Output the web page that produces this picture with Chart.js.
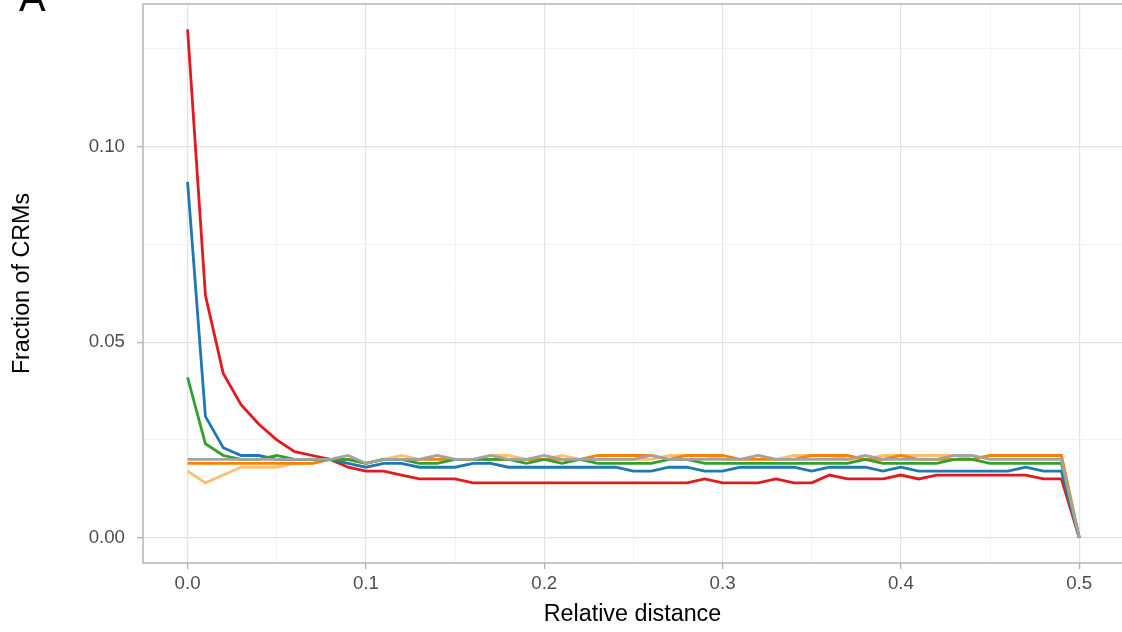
<!DOCTYPE html>
<html>
<head>
<meta charset="utf-8">
<script src="https://cdn.jsdelivr.net/npm/chart.js@4/dist/chart.umd.min.js"></script>
<style>
  body { margin: 0; background: #fff; }
  .chart-box { width: 1122px; height: 632px; }
</style>
</head>
<body>
<div class="chart-box">
  <canvas id="distChart" width="1122" height="632"></canvas>
</div>
<script>
  // relative distance of each bin
  const distances = [
    0.00, 0.01, 0.02, 0.03, 0.04, 0.05, 0.06, 0.07, 0.08, 0.09,
    0.10, 0.11, 0.12, 0.13, 0.14, 0.15, 0.16, 0.17, 0.18, 0.19,
    0.20, 0.21, 0.22, 0.23, 0.24, 0.25, 0.26, 0.27, 0.28, 0.29,
    0.30, 0.31, 0.32, 0.33, 0.34, 0.35, 0.36, 0.37, 0.38, 0.39,
    0.40, 0.41, 0.42, 0.43, 0.44, 0.45, 0.46, 0.47, 0.48, 0.49,
    0.50
  ];

  // fraction of CRMs per bin, one array per group
  const redSeries = [
    0.130, 0.062, 0.042, 0.034, 0.029, 0.025, 0.022, 0.021, 0.020, 0.018,
    0.017, 0.017, 0.016, 0.015, 0.015, 0.015, 0.014, 0.014, 0.014, 0.014,
    0.014, 0.014, 0.014, 0.014, 0.014, 0.014, 0.014, 0.014, 0.014, 0.015,
    0.014, 0.014, 0.014, 0.015, 0.014, 0.014, 0.016, 0.015, 0.015, 0.015,
    0.016, 0.015, 0.016, 0.016, 0.016, 0.016, 0.016, 0.016, 0.015, 0.015,
    0.000
  ];
  const blueSeries = [
    0.091, 0.031, 0.023, 0.021, 0.021, 0.020, 0.020, 0.020, 0.020, 0.019,
    0.018, 0.019, 0.019, 0.018, 0.018, 0.018, 0.019, 0.019, 0.018, 0.018,
    0.018, 0.018, 0.018, 0.018, 0.018, 0.017, 0.017, 0.018, 0.018, 0.017,
    0.017, 0.018, 0.018, 0.018, 0.018, 0.017, 0.018, 0.018, 0.018, 0.017,
    0.018, 0.017, 0.017, 0.017, 0.017, 0.017, 0.017, 0.018, 0.017, 0.017,
    0.000
  ];
  const greenSeries = [
    0.041, 0.024, 0.021, 0.020, 0.020, 0.021, 0.020, 0.020, 0.020, 0.020,
    0.019, 0.020, 0.020, 0.019, 0.019, 0.020, 0.020, 0.020, 0.020, 0.019,
    0.020, 0.019, 0.020, 0.019, 0.019, 0.019, 0.019, 0.020, 0.020, 0.019,
    0.019, 0.019, 0.019, 0.019, 0.019, 0.019, 0.019, 0.019, 0.020, 0.019,
    0.019, 0.019, 0.019, 0.020, 0.020, 0.019, 0.019, 0.019, 0.019, 0.019,
    0.000
  ];
  const orangeSeries = [
    0.019, 0.019, 0.019, 0.019, 0.019, 0.019, 0.019, 0.019, 0.020, 0.020,
    0.019, 0.020, 0.020, 0.020, 0.020, 0.020, 0.020, 0.020, 0.020, 0.020,
    0.020, 0.020, 0.020, 0.021, 0.021, 0.021, 0.021, 0.020, 0.021, 0.021,
    0.021, 0.020, 0.020, 0.020, 0.020, 0.021, 0.021, 0.021, 0.020, 0.020,
    0.021, 0.020, 0.020, 0.020, 0.020, 0.021, 0.021, 0.021, 0.021, 0.021,
    0.000
  ];
  const lightOrangeSeries = [
    0.017, 0.014, 0.016, 0.018, 0.018, 0.018, 0.019, 0.019, 0.020, 0.020,
    0.019, 0.020, 0.021, 0.020, 0.021, 0.020, 0.020, 0.021, 0.021, 0.020,
    0.020, 0.021, 0.020, 0.020, 0.020, 0.020, 0.020, 0.021, 0.021, 0.021,
    0.020, 0.020, 0.021, 0.020, 0.021, 0.021, 0.021, 0.020, 0.020, 0.021,
    0.021, 0.021, 0.021, 0.021, 0.020, 0.021, 0.021, 0.021, 0.021, 0.021,
    0.000
  ];
  const greySeries = [
    0.020, 0.020, 0.020, 0.020, 0.020, 0.020, 0.020, 0.020, 0.020, 0.021,
    0.019, 0.020, 0.020, 0.020, 0.021, 0.020, 0.020, 0.021, 0.020, 0.020,
    0.021, 0.020, 0.020, 0.020, 0.020, 0.020, 0.021, 0.020, 0.020, 0.020,
    0.020, 0.020, 0.021, 0.020, 0.020, 0.020, 0.020, 0.020, 0.021, 0.020,
    0.020, 0.020, 0.020, 0.021, 0.021, 0.020, 0.020, 0.020, 0.020, 0.020,
    0.000
  ];

  // axis ticks (empty label = minor grid line only)
  const xTicks = [0, 0.05, 0.1, 0.15, 0.2, 0.25, 0.3, 0.35, 0.4, 0.45, 0.5];
  const xTickLabels = ["0.0", "", "0.1", "", "0.2", "", "0.3", "", "0.4", "", "0.5"];
  const yTicks = [0, 0.025, 0.05, 0.075, 0.1, 0.125];
  const yTickLabels = ["0.00", "", "0.05", "", "0.10", ""];

  const fontFamily = "'Liberation Sans', Arial, Helvetica, sans-serif";

  function toPoints(values) {
    return values.map((v, i) => ({ x: distances[i], y: v }));
  }

  function lineSet(values, colour) {
    return {
      data: toPoints(values),
      borderColor: colour,
      borderWidth: 2.8,
      pointRadius: 0,
      fill: false,
      tension: 0,
    };
  }

  function isMajor(list, labels, value) {
    const idx = list.findIndex((t) => Math.abs(t - value) < 1e-9);
    return idx >= 0 && labels[idx] !== "";
  }

  // panel border + the "A" tag
  const panelExtras = {
    id: "panelExtras",
    afterDatasetsDraw(chart) {
      const { ctx, chartArea } = chart;
      ctx.save();
      ctx.strokeStyle = "#b8b8b8";
      ctx.lineWidth = 1.6;
      ctx.strokeRect(
        chartArea.left,
        chartArea.top,
        chartArea.right - chartArea.left + 3,
        chartArea.bottom - chartArea.top
      );
      ctx.restore();
    },
    afterDraw(chart) {
      const ctx = chart.ctx;
      ctx.save();
      ctx.fillStyle = "#000";
      ctx.font = "40px " + fontFamily;
      ctx.textBaseline = "alphabetic";
      ctx.fillText("A", 19, 11);
      ctx.restore();
    },
  };

  const ctx = document.getElementById("distChart").getContext("2d");

  const distChart = new Chart(ctx, {
    type: "line",
    data: {
      datasets: [
        lineSet(greySeries, "#a3a3a3"),
        lineSet(greenSeries, "#33a02c"),
        lineSet(blueSeries, "#1f78b4"),
        lineSet(redSeries, "#e31a1c"),
        lineSet(orangeSeries, "#ff7f00"),
        lineSet(lightOrangeSeries, "#fdbf6f"),
      ],
    },
    options: {
      responsive: false,
      animation: false,
      layout: { padding: { top: 4, right: 0, left: 0, bottom: 0 } },
      plugins: {
        legend: { display: false },
        tooltip: { enabled: false },
      },
      scales: {
        x: {
          type: "linear",
          min: -0.025,
          max: 0.524,
          afterFit: (scale) => {
            scale.height = 69;
            scale.paddingLeft = 0;
            scale.paddingRight = 0;
          },
          afterBuildTicks: (scale) => {
            scale.ticks = xTicks.map((v) => ({ value: v }));
          },
          border: { display: false },
          grid: {
            color: (c) => (isMajor(xTicks, xTickLabels, c.tick.value) ? "#e3e3e3" : "#f1f1f1"),
            lineWidth: (c) => (isMajor(xTicks, xTickLabels, c.tick.value) ? 1.2 : 0.9),
            tickColor: (c) => (isMajor(xTicks, xTickLabels, c.tick.value) ? "#b3b3b3" : "rgba(0,0,0,0)"),
            tickWidth: 1.4,
            tickLength: 6,
            drawTicks: true,
          },
          ticks: {
            autoSkip: false,
            maxRotation: 0,
            padding: 4,
            color: "#4d4d4d",
            font: { family: fontFamily, size: 18.7 },
            callback: (value, i) => xTickLabels[i],
          },
          title: {
            display: true,
            text: "Relative distance",
            color: "#000",
            font: { family: fontFamily, size: 23.3, lineHeight: 1.2 },
            padding: { top: 0, bottom: 3 },
          },
        },
        y: {
          type: "linear",
          min: -0.0065,
          max: 0.1365,
          afterFit: (scale) => {
            scale.width = 143;
            scale.paddingTop = 0;
            scale.paddingBottom = 0;
          },
          afterBuildTicks: (scale) => {
            scale.ticks = yTicks.map((v) => ({ value: v }));
          },
          border: { display: false },
          grid: {
            color: (c) => (isMajor(yTicks, yTickLabels, c.tick.value) ? "#e3e3e3" : "#f1f1f1"),
            lineWidth: (c) => (isMajor(yTicks, yTickLabels, c.tick.value) ? 1.2 : 0.9),
            tickColor: (c) => (isMajor(yTicks, yTickLabels, c.tick.value) ? "#b3b3b3" : "rgba(0,0,0,0)"),
            tickWidth: 1.4,
            tickLength: 6,
            drawTicks: true,
          },
          ticks: {
            autoSkip: false,
            padding: 12,
            color: "#4d4d4d",
            font: { family: fontFamily, size: 18.7 },
            callback: (value, i) => yTickLabels[i],
          },
          title: {
            display: true,
            text: "Fraction of CRMs",
            color: "#000",
            font: { family: fontFamily, size: 23.3, lineHeight: 1.2 },
            padding: { top: 9, bottom: 0 },
          },
        },
      },
    },
    plugins: [panelExtras],
  });
</script>
</body>
</html>
